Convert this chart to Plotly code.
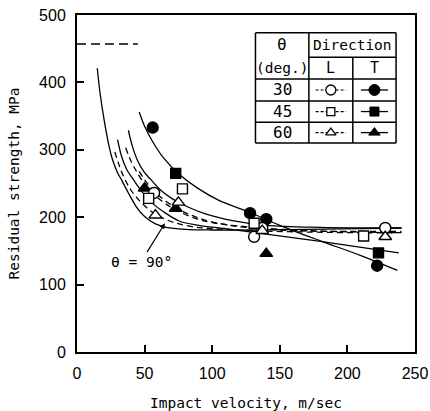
import plotly.graph_objects as go

# ---------------- data ----------------
x_ticks = [0, 50, 100, 150, 200, 250]
y_ticks = [0, 100, 200, 300, 400, 500]

# measured points
t30_x = [56, 128, 140, 222]
t30_y = [333, 206, 197, 128]
t45_x = [73, 223]
t45_y = [265, 147]
t60_x = [50, 73, 140]
t60_y = [243, 213, 146]
l30_x = [57, 131, 137, 228]
l30_y = [236, 171, 184, 184]
l45_x = [53, 78, 131, 212]
l45_y = [228, 242, 191, 172]
l60_x = [58, 75, 137, 228]
l60_y = [203, 222, 180, 171]

# fitted curves (traced)
c90_x = [15, 17, 20, 23, 26, 30, 33, 38, 44, 50, 58, 66, 80, 100, 130, 170, 210, 240]
c90_y = [421, 385, 345, 312, 287, 266, 255, 236, 215, 201, 190, 185, 182, 181, 181, 182, 183, 184]
cs2_x = [30, 33, 37, 42, 48, 55, 64, 76, 90, 110, 140, 180, 238]
cs2_y = [315, 290, 270, 255, 238, 222, 208, 194, 188, 183, 175, 164, 147]
cd_x = [38, 41, 45, 50, 55, 62, 70, 80, 95, 115, 140, 180, 240]
cd_y = [329, 305, 283, 266, 255, 240, 228, 217, 205, 195, 188, 185, 184]
ce_x = [46, 50, 56, 64, 76, 90, 105, 128, 150, 180, 210, 237]
ce_y = [356, 335, 312, 288, 263, 242, 225, 207, 188, 165, 143, 121]
cl1_x = [28, 31, 35, 40, 46, 54, 62, 72, 85, 100, 130, 170, 210, 240]
cl1_y = [297, 278, 258, 240, 225, 210, 200, 192, 186, 183, 180, 178, 177, 177]
cl2_x = [36, 40, 44, 48, 54, 62, 72, 85, 100, 130, 170, 210, 240]
cl2_y = [303, 283, 268, 255, 240, 225, 212, 200, 192, 185, 180, 178, 177]
cl3_x = [46, 52, 60, 70, 82, 98, 120, 150, 190, 240]
cl3_y = [268, 250, 233, 218, 205, 194, 186, 181, 179, 179]
static_x = [0, 45]
static_y = [457, 457]

MONO = "DejaVu Sans Mono"

fig = go.Figure()

def curve(xs, ys, dash="solid"):
    fig.add_trace(go.Scatter(x=xs, y=ys, mode="lines", line=dict(color="black", width=1.3, dash=dash, shape="spline", smoothing=1.0),
                             showlegend=False, hoverinfo="skip"))

curve(c90_x, c90_y)
curve(cs2_x, cs2_y)
curve(cd_x, cd_y)
curve(ce_x, ce_y)
curve(cl1_x, cl1_y, "6px,4px")
curve(cl2_x, cl2_y, "6px,4px")
curve(cl3_x, cl3_y, "6px,4px")
fig.add_trace(go.Scatter(x=static_x, y=static_y, mode="lines", line=dict(color="black", width=1.5, dash="9px,5px"),
                         showlegend=False, hoverinfo="skip"))

def pts(xs, ys, symbol, filled, size=11):
    fig.add_trace(go.Scatter(x=xs, y=ys, mode="markers",
                             marker=dict(symbol=symbol, size=size, color="black" if filled else "white",
                                         line=dict(color="black", width=1.4)),
                             showlegend=False, hoverinfo="skip"))

pts(t30_x, t30_y, "circle", True, 11)
pts(t45_x, t45_y, "square", True, 10)
pts(t60_x, t60_y, "triangle-up", True, 11)
pts(l30_x, l30_y, "circle", False, 11)
pts(l45_x, l45_y, "square", False, 10)
pts(l60_x, l60_y, "triangle-up", False, 11)

# ---------------- legend table (paper-aligned overlay axes) ----------------
tx = [0.528, 0.686, 0.816, 0.944]
ty = [0.947, 0.875, 0.810, 0.745, 0.682, 0.620]
shapes = []
def ln(x0, y0, x1, y1):
    shapes.append(dict(type="line", xref="paper", yref="paper", x0=x0, y0=y0, x1=x1, y1=y1,
                       line=dict(color="black", width=1.5)))
ln(tx[0], ty[0], tx[3], ty[0])
ln(tx[0], ty[5], tx[3], ty[5])
ln(tx[0], ty[0], tx[0], ty[5])
ln(tx[3], ty[0], tx[3], ty[5])
ln(tx[1], ty[0], tx[1], ty[5])
ln(tx[2], ty[1], tx[2], ty[5])
ln(tx[1], ty[1], tx[3], ty[1])
for yy in ty[2:5]:
    ln(tx[0], yy, tx[3], yy)

ann = []
def txt(x, y, s, size=14.5):
    ann.append(dict(x=x, y=y, xref="paper", yref="paper", text=s, showarrow=False,
                    font=dict(family=MONO, size=size, color="black"), xanchor="center", yanchor="middle"))
cx0 = (tx[0] + tx[1]) / 2
cxL = (tx[1] + tx[2]) / 2
cxT = (tx[2] + tx[3]) / 2
txt(cx0, 0.913, "θ", 16)
txt(cx0, 0.843, "(deg.)")
txt((tx[1] + tx[3]) / 2, 0.912, "Direction")
txt(cxL, 0.842, "L", 15)
txt(cxT, 0.842, "T", 15)
rows = ["30", "45", "60"]
row_y = [(ty[2] + ty[3]) / 2, (ty[3] + ty[4]) / 2, (ty[4] + ty[5]) / 2]
for r, yy in zip(rows, row_y):
    txt(cx0, yy, r, 16)

syms = ["circle", "square", "triangle-up"]
sizes = [10, 8, 9]
for s, yy, sz in zip(syms, row_y, sizes):
    fig.add_trace(go.Scatter(x=[cxL - 0.045, cxL + 0.045], y=[yy, yy], xaxis="x2", yaxis="y2", mode="lines",
                             line=dict(color="black", width=1.2, dash="3px,2px"), showlegend=False, hoverinfo="skip"))
    fig.add_trace(go.Scatter(x=[cxL], y=[yy], xaxis="x2", yaxis="y2", mode="markers",
                             marker=dict(symbol=s, size=sz, color="white", line=dict(color="black", width=1.3)),
                             showlegend=False, hoverinfo="skip"))
    fig.add_trace(go.Scatter(x=[cxT - 0.04, cxT + 0.04], y=[yy, yy], xaxis="x2", yaxis="y2", mode="lines",
                             line=dict(color="black", width=1.3), showlegend=False, hoverinfo="skip"))
    fig.add_trace(go.Scatter(x=[cxT], y=[yy], xaxis="x2", yaxis="y2", mode="markers",
                             marker=dict(symbol=s, size=sz + 1, color="black", line=dict(color="black", width=1)),
                             showlegend=False, hoverinfo="skip"))

# theta = 90 label with arrow
ann.append(dict(x=65, y=191, xref="x", yref="y", ax=47.5, ay=134, axref="x", ayref="y",
                text="θ = 90°", showarrow=True, arrowhead=2, arrowsize=0.9, arrowwidth=1.2, arrowcolor="black",
                font=dict(family=MONO, size=14.5, color="black")))

fig.update_layout(
    width=430, height=411,
    margin=dict(l=77, r=15, t=15, b=59),
    paper_bgcolor="white", plot_bgcolor="white",
    shapes=shapes, annotations=ann,
    xaxis=dict(range=[0, 250], tickvals=x_ticks, ticks="inside", ticklen=7, tickwidth=1.5, tickcolor="black",
               showline=True, linecolor="black", linewidth=2, mirror=True, showgrid=False, zeroline=False,
               automargin=False,
               tickfont=dict(family="Liberation Sans", size=16, color="black"), ticklabelstandoff=6,
               title=dict(text="Impact velocity, m/sec", font=dict(family=MONO, size=14.5, color="black"), standoff=22)),
    yaxis=dict(range=[0, 500], tickvals=y_ticks, ticks="inside", ticklen=7, tickwidth=1.5, tickcolor="black",
               showline=True, linecolor="black", linewidth=2, mirror=True, showgrid=False, zeroline=False,
               automargin=False,
               tickfont=dict(family="Liberation Sans", size=16, color="black"), ticklabelstandoff=6,
               title=dict(text="Residual strength, MPa", font=dict(family=MONO, size=14.5, color="black"), standoff=16)),
    xaxis2=dict(overlaying="x", range=[0, 1], visible=False),
    yaxis2=dict(overlaying="y", range=[0, 1], visible=False),
)

fig.write_html("out.html")
